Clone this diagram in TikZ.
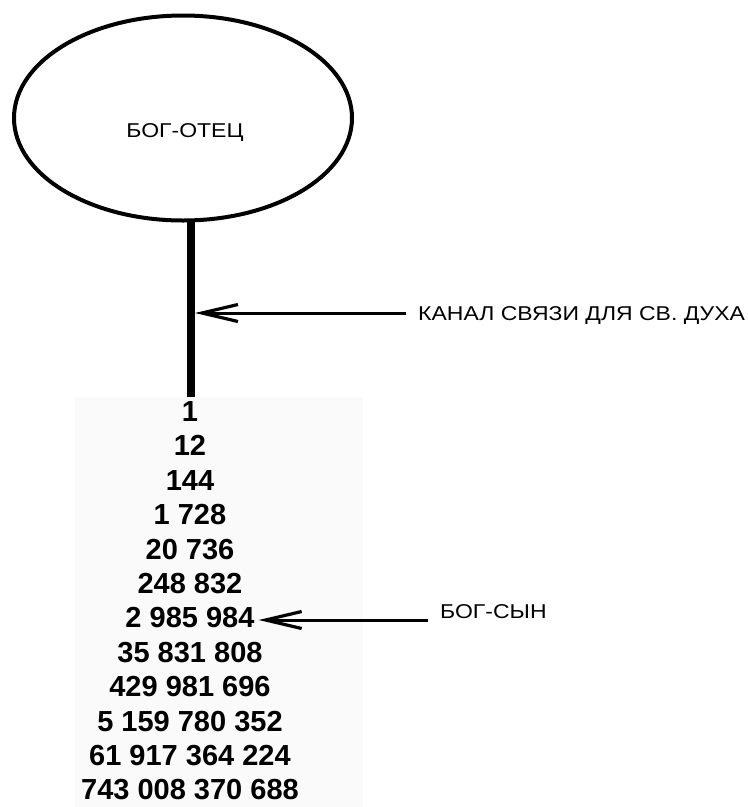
\documentclass[tikz,border=0pt]{standalone}
\usepackage{fontspec}
\setmainfont{Liberation Sans}
\newfontfamily\widefont[FakeStretch=1.15]{Liberation Sans}
\usetikzlibrary{arrows.meta,shapes.geometric}
\begin{document}
\begin{tikzpicture}[x=1pt,y=-1pt,
  lbl/.style={inner sep=0pt,font=\widefont\fontsize{20}{22}\selectfont},
  num/.style={inner sep=0pt,anchor=base,font=\fontsize{29}{30}\selectfont\bfseries},
  ptr/.style={line width=3pt,-{Straight Barb[length=36pt,width=17pt,line width=3.2pt]}}]
\useasboundingbox (0,0) rectangle (748,807);
\fill[white] (0,0) rectangle (748,807);
\fill[black!2] (75,397) rectangle (363,807);
\node[draw,line width=4pt,ellipse,minimum width=338pt,minimum height=205pt,inner sep=0pt] (father) at (183,118) {};
\node[lbl,anchor=base] (ftext) at (185,137) {БОГ-ОТЕЦ};
\coordinate (ctop) at (191,220);
\coordinate (cbot) at (191,397);
\draw[line width=8pt] (ctop) -- (cbot);
\foreach \v [count=\i] in {1,12,144,1 728,20 736,248 832,2 985 984,35 831 808,429 981 696,5 159 780 352,61 917 364 224,743 008 370 688}
  \node[num] (n\i) at (190,{421.5+34.4*(\i-1)}) {\v};
\node[lbl,anchor=base west] (spirit) at (418,320) {КАНАЛ СВЯЗИ ДЛЯ СВ. ДУХА};
\coordinate (chanpt) at (195,313);
\draw[ptr] ([xshift=-12pt]spirit.west |- chanpt) -- (chanpt);
\node[lbl,anchor=base west] (son) at (440,618) {БОГ-СЫН};
\draw[ptr] ([xshift=-12pt]son.west |- 0,620) -- ([xshift=4pt]n7.east |- 0,620);
\end{tikzpicture}
\end{document}
